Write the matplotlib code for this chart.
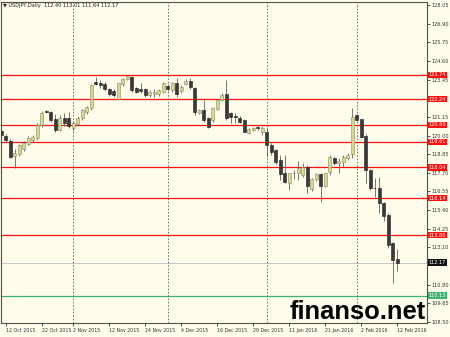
import numpy as np
import pandas as pd
import matplotlib
matplotlib.use('Agg')
import matplotlib.pyplot as plt
import matplotlib.transforms as mtransforms

# daily USDJPY candles, 9 Oct 2015 .. 12 Feb 2016 (no bars on 25 Dec and 1 Jan)
dates = [d for d in pd.bdate_range('2015-10-09', '2016-02-12')
         if d.strftime('%m-%d') not in ('12-25', '01-01')]

opens = [120.25, 119.97, 119.68, 118.72, 118.84, 119.20, 119.47, 119.72, 119.83, 120.65,
         121.50, 121.47, 121.00, 120.34, 121.10, 121.06, 120.44, 120.71, 121.06, 121.47,
         121.72, 123.28, 123.25, 123.18, 122.85, 122.75, 122.25, 123.16, 123.51, 123.59,
         122.91, 122.85, 122.85, 122.50, 122.56, 122.56, 122.70, 123.05, 122.80, 123.22,
         122.77, 123.18, 123.38, 122.91, 121.41, 121.57, 121.06, 120.96, 121.61, 122.19,
         122.56, 121.37, 121.20, 121.06, 120.96, 120.17, 120.34, 120.50, 120.20, 120.24,
         119.41, 119.10, 118.49, 117.67, 117.05, 117.67, 117.70, 117.56, 118.08, 116.68,
         117.29, 117.62, 116.90, 117.73, 118.63, 118.28, 118.38, 118.59, 118.84, 121.26,
         120.99, 119.97, 117.87, 116.78, 116.78, 115.82, 115.10, 113.35, 112.40]
highs = [120.35, 120.09, 119.76, 119.15, 119.50, 119.65, 119.95, 120.05, 120.75, 121.50,
         121.55, 121.52, 121.30, 121.25, 121.40, 121.47, 120.90, 121.20, 121.62, 121.80,
         123.20, 123.59, 123.40, 123.30, 122.95, 122.85, 123.25, 123.55, 123.75, 123.65,
         123.00, 123.22, 122.95, 122.80, 122.90, 122.90, 123.32, 123.15, 123.32, 123.53,
         123.11, 123.46, 123.52, 123.01, 121.65, 122.19, 121.15, 121.77, 122.25, 122.60,
         123.45, 121.47, 121.37, 121.20, 121.05, 120.45, 120.55, 120.58, 120.58, 120.44,
         119.52, 119.20, 118.80, 118.80, 117.70, 117.90, 118.40, 118.28, 118.19, 117.40,
         117.70, 117.67, 117.70, 118.80, 118.70, 118.59, 118.79, 118.90, 121.68, 121.30,
         121.05, 120.07, 117.95, 117.36, 117.46, 115.92, 115.20, 113.45, 113.01]
lows = [119.95, 119.62, 118.60, 118.02, 118.75, 119.05, 119.40, 119.60, 119.70, 120.50,
        121.38, 120.85, 120.22, 120.25, 120.60, 120.44, 120.30, 120.60, 120.95, 121.35,
        121.60, 123.11, 122.95, 122.75, 122.45, 122.35, 122.20, 123.05, 123.40, 122.70,
        122.60, 122.60, 122.40, 122.40, 122.40, 122.45, 122.60, 122.75, 122.70, 122.40,
        122.60, 123.11, 122.90, 121.26, 121.30, 120.85, 120.44, 120.85, 121.55, 122.10,
        120.95, 120.75, 120.75, 120.75, 120.20, 120.10, 120.30, 120.34, 120.03, 118.69,
        118.80, 118.25, 117.25, 117.05, 116.64, 117.30, 117.25, 117.46, 116.43, 116.55,
        117.20, 115.92, 116.80, 117.55, 118.20, 117.67, 118.08, 118.49, 118.59, 120.90,
        119.85, 117.05, 116.65, 116.23, 115.20, 114.70, 113.04, 110.88, 111.64]
closes = [120.05, 119.72, 118.69, 118.90, 119.41, 119.52, 119.83, 119.93, 120.65, 121.41,
          121.45, 120.95, 120.34, 121.06, 120.80, 120.59, 120.75, 121.06, 121.57, 121.74,
          123.12, 123.20, 123.10, 122.85, 122.56, 122.48, 123.22, 123.46, 123.67, 122.81,
          122.70, 122.77, 122.50, 122.70, 122.70, 122.81, 123.26, 122.85, 123.26, 122.54,
          123.01, 123.38, 123.01, 121.43, 121.57, 120.96, 120.54, 121.67, 122.19, 122.50,
          121.06, 121.16, 121.15, 120.85, 120.24, 120.38, 120.44, 120.46, 120.48, 119.41,
          119.00, 118.38, 117.63, 117.15, 117.67, 117.70, 118.00, 118.08, 116.90, 117.29,
          117.60, 116.90, 117.66, 118.69, 118.28, 118.42, 118.65, 118.79, 121.12, 120.96,
          119.93, 117.87, 116.74, 116.74, 115.82, 115.05, 113.28, 112.32, 112.17]

levels = [123.74, 122.24, 120.66, 119.61, 118.04, 116.14, 113.86]
last_price = 112.17
support = 110.13
ytick_vals = [128.05, 126.90, 125.75, 124.60, 123.45, 122.30, 121.15, 120.00, 118.85,
              117.70, 116.55, 115.40, 114.25, 113.10, 111.95, 110.80, 109.65, 108.50]
xlabel_dates = ['2015-10-12', '2015-10-22', '2015-11-02', '2015-11-12', '2015-11-24',
                '2015-12-04', '2015-12-16', '2015-12-29', '2016-01-11', '2016-01-21',
                '2016-02-02', '2016-02-12']
month_starts = ['2015-11-02', '2015-12-01', '2016-01-04', '2016-02-01']

bg = '#FEFDEB'
fig = plt.figure(figsize=(4.5, 3.37), dpi=100, facecolor=bg)
ax = fig.add_axes([1 / 450, 14 / 337, 426 / 450, 321 / 337], facecolor=bg)

x = np.arange(len(dates))
o = np.array(opens)
h = np.array(highs)
l = np.array(lows)
c = np.array(closes)
up = c >= o

# level lines
for lv in levels:
    ax.axhline(lv, color='#FF1010', lw=0.9, zorder=1)
ax.axhline(last_price, color='#C8C8C8', lw=0.7, zorder=1)
ax.axhline(support, color='#3CB371', lw=0.9, zorder=1)

# month separators
pos = {d.strftime('%Y-%m-%d'): i for i, d in enumerate(dates)}
for m in month_starts:
    ax.axvline(pos[m], color='#606060', lw=0.6, ls=(0, (2, 2)), zorder=1)

# candles
ax.vlines(x, l, h, color='#606060', lw=0.6, zorder=2)
body_lo = np.minimum(o, c)
body_h = np.maximum(np.abs(c - o), 0.03)
ax.bar(x[up], body_h[up], bottom=body_lo[up], width=0.62,
       color='#D6D699', edgecolor='#8C8C5A', lw=0.4, zorder=3)
ax.bar(x[~up], body_h[~up], bottom=body_lo[~up], width=0.62,
       color='#3A3A3A', edgecolor='#1A1A1A', lw=0.4, zorder=3)

ax.set_xlim(-0.04, 94.6)
ax.set_ylim(108.44, 128.235)

# axes look
for s in ax.spines.values():
    s.set_color('#505050')
    s.set_linewidth(0.8)

ax.yaxis.tick_right()
shown = [v for v in ytick_vals
         if min(abs(v - q) for q in levels + [last_price, support]) > 0.25]
ax.set_yticks(shown)
ax.set_yticklabels([f'{v:.2f}' for v in shown])
ax.tick_params(axis='y', length=2, width=0.6, pad=1.5, labelsize=3.6,
               colors='#333333')

xt = [pos[d] for d in xlabel_dates]
ax.set_xticks(xt)
ax.set_xticklabels([f"{dates[i].day} {dates[i].strftime('%b %Y')}" for i in xt],
                   ha='left')
ax.tick_params(axis='x', length=2, width=0.6, pad=1.5, labelsize=3.4,
               colors='#333333')

# price boxes on the right scale
trans = mtransforms.blended_transform_factory(ax.transAxes, ax.transData)
def price_box(v, fc):
    ax.text(1.004, v, f'{v:.2f}', transform=trans, ha='left', va='center',
            fontsize=3.6, color='white', zorder=5, clip_on=False,
            bbox=dict(boxstyle='square,pad=0.15', fc=fc, ec='none'))

for lv in levels:
    price_box(lv, '#FF1010')
price_box(last_price, '#111111')
price_box(support, '#3CB371')

fig.text(3 / 450, 1 - 6 / 337,
         '\u25bc USDJPY,Daily  112.40 113.01 111.64 112.17',
         fontsize=3.6, color='#222222', va='center', ha='left')

fig.text(290 / 450, 1 - 319 / 337, 'finanso.net', fontsize=18.4,
         family='Liberation Sans', weight='bold', color='black',
         ha='left', va='baseline', zorder=10)

fig.savefig('out.png', dpi=100, facecolor=bg)
